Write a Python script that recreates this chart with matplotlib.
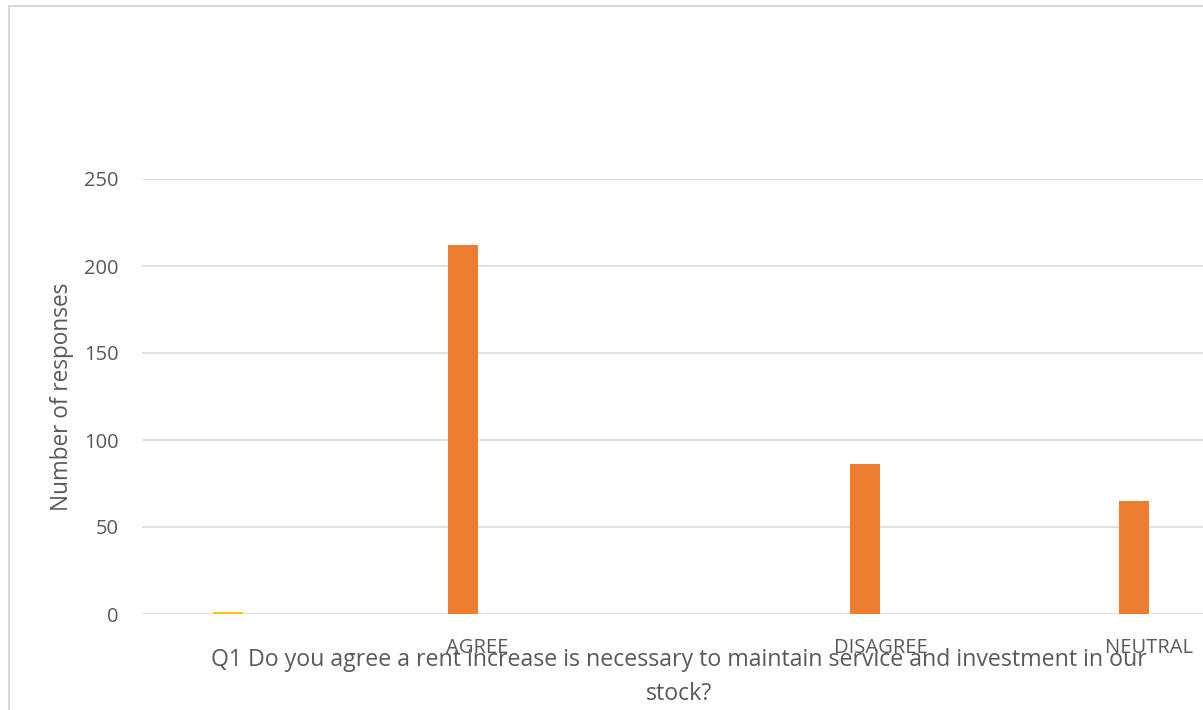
import matplotlib
matplotlib.use("Agg")
import matplotlib.pyplot as plt
from matplotlib.lines import Line2D
import numpy as np

# ---- data ----
categories = ["", "", "AGREE", "", "", "DISAGREE", "", "NEUTRAL"]
orange_values = [0, 0, 212, 0, 0, 86, 0, 65]
yellow_values = [1, 0, 0, 0, 0, 0, 0, 0]
y_ticks = [0, 50, 100, 150, 200, 250]
y_label = "Number of responses"
x_title = "Q1 Do you agree a rent increase is necessary to maintain service and investment in our\nstock?"

plt.rcParams['font.family'] = ['Open Sans', 'DejaVu Sans']
TXT = '#595959'
GRID = '#d9d9d9'

W, H = 1203, 710
fig = plt.figure(figsize=(W / 100, H / 100), dpi=100)

# axes geometry in pixels (plot area extends past the right edge of the image)
left_px, right_px, top_px, bottom_px = 142, 1216, 179, 614
ax = fig.add_axes([left_px / W, 1 - bottom_px / H,
                   (right_px - left_px) / W, (bottom_px - top_px) / H])

x = np.arange(len(categories))
bw = 0.2234
ax.bar(x, orange_values, width=-bw, align='edge', color='#ED7D31', zorder=3)
ax.bar(x + 0.03, yellow_values, width=bw, align='edge', color='#FFC000', zorder=3)

ax.set_xlim(-0.5, len(categories) - 0.5)
ax.set_ylim(0, 250)
ax.set_yticks(y_ticks)
ax.set_xticks(x)
ax.set_xticklabels(categories)
ax.tick_params(axis='y', length=0, pad=17, labelsize=14.5, labelcolor=TXT)
ax.tick_params(axis='x', length=0, pad=17, labelsize=14.5, labelcolor=TXT)
ax.grid(axis='y', color=GRID, linewidth=1.1, zorder=0)
for s in ax.spines.values():
    s.set_visible(False)

ax.set_ylabel(y_label, fontsize=16.3, color=TXT)
ax.yaxis.set_label_coords(-(142 - 74) / (right_px - left_px), 0.5)

ax.set_xlabel(x_title, fontsize=16.7, color=TXT, linespacing=1.55)
ax.xaxis.set_label_coords(0.5, -(648 - 614) / (bottom_px - top_px))

# chart border (cropped)
fig.add_artist(Line2D([8.5 / W, 8.5 / W], [0, 1 - 5.5 / H], transform=fig.transFigure,
                      color=GRID, linewidth=1.5))
fig.add_artist(Line2D([8.5 / W, 1], [1 - 5.5 / H, 1 - 5.5 / H], transform=fig.transFigure,
                      color=GRID, linewidth=1.5))

fig.savefig("out.png", dpi=100)
